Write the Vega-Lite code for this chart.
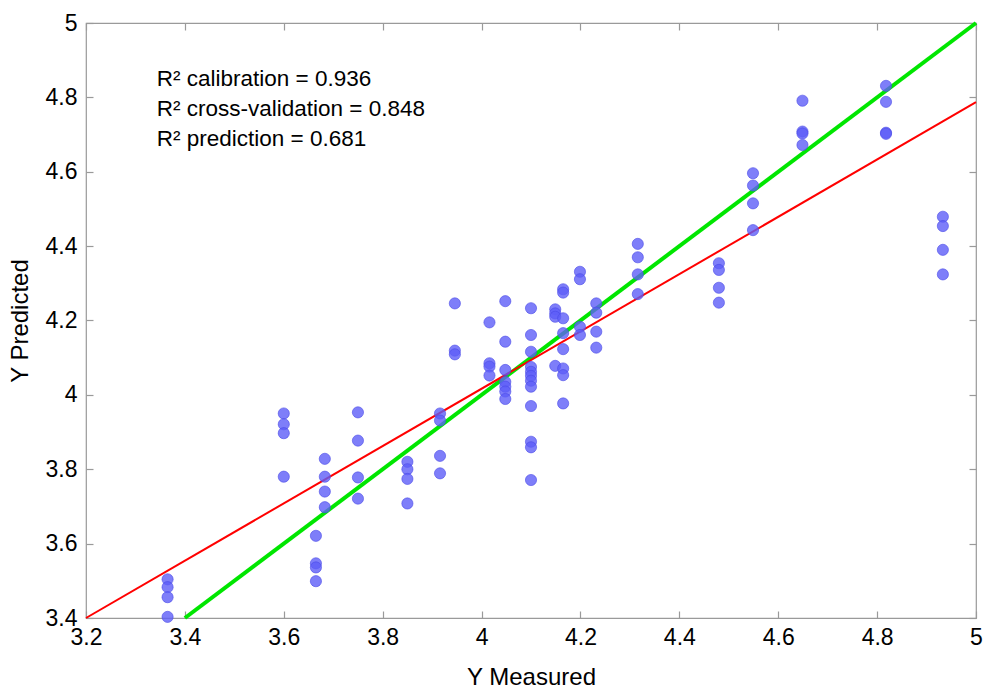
{
  "$schema": "https://vega.github.io/schema/vega-lite/v6.json",
  "width": 890,
  "height": 595,
  "autosize": "none",
  "padding": {"left": 86, "top": 23, "right": 8, "bottom": 73},
  "background": "white",
  "config": {
    "font": "Liberation Sans",
    "view": {"stroke": "#9a9a9a", "strokeWidth": 1.2},
    "axis": {
      "grid": false,
      "domain": false,
      "tickColor": "#9a9a9a",
      "tickWidth": 1.2,
      "tickSize": -7,
      "labelFont": "Liberation Sans",
      "labelFontSize": 23,
      "labelColor": "black",
      "titleFont": "Liberation Sans",
      "titleFontSize": 24,
      "titleFontWeight": "normal",
      "titleColor": "black",
      "labelFlush": false,
      "labelOverlap": false,
      "format": "~g"
    }
  },
  "datasets": {
    "ideal": [{"x": 3.4, "y": 3.4}, {"x": 5, "y": 5}],
    "fit": [{"x": 3.2, "y": 3.4}, {"x": 5, "y": 4.787}],
    "points": [
      {"x": 3.365, "y": 3.504}, {"x": 3.365, "y": 3.483}, {"x": 3.365, "y": 3.456}, {"x": 3.365, "y": 3.403},
      {"x": 3.6, "y": 3.95}, {"x": 3.6, "y": 3.921}, {"x": 3.6, "y": 3.897}, {"x": 3.6, "y": 3.78},
      {"x": 3.665, "y": 3.621}, {"x": 3.665, "y": 3.547}, {"x": 3.665, "y": 3.536}, {"x": 3.665, "y": 3.499},
      {"x": 3.683, "y": 3.828}, {"x": 3.683, "y": 3.78}, {"x": 3.683, "y": 3.74}, {"x": 3.683, "y": 3.698},
      {"x": 3.75, "y": 3.953}, {"x": 3.75, "y": 3.877}, {"x": 3.75, "y": 3.778}, {"x": 3.75, "y": 3.721},
      {"x": 3.85, "y": 3.82}, {"x": 3.85, "y": 3.8}, {"x": 3.85, "y": 3.774}, {"x": 3.85, "y": 3.708},
      {"x": 3.916, "y": 3.95}, {"x": 3.916, "y": 3.931}, {"x": 3.916, "y": 3.836}, {"x": 3.916, "y": 3.789},
      {"x": 3.946, "y": 4.246}, {"x": 3.946, "y": 4.119}, {"x": 3.946, "y": 4.109},
      {"x": 4.016, "y": 4.195}, {"x": 4.016, "y": 4.085}, {"x": 4.016, "y": 4.076}, {"x": 4.016, "y": 4.052},
      {"x": 4.048, "y": 4.252}, {"x": 4.048, "y": 4.143}, {"x": 4.048, "y": 4.067}, {"x": 4.048, "y": 4.035}, {"x": 4.048, "y": 4.022}, {"x": 4.048, "y": 4.009}, {"x": 4.048, "y": 3.989},
      {"x": 4.1, "y": 4.233}, {"x": 4.1, "y": 4.161}, {"x": 4.1, "y": 4.116}, {"x": 4.1, "y": 4.075}, {"x": 4.1, "y": 4.062}, {"x": 4.1, "y": 4.051}, {"x": 4.1, "y": 4.038}, {"x": 4.1, "y": 4.022}, {"x": 4.1, "y": 3.97}, {"x": 4.1, "y": 3.874}, {"x": 4.1, "y": 3.859}, {"x": 4.1, "y": 3.771},
      {"x": 4.149, "y": 4.23}, {"x": 4.149, "y": 4.219}, {"x": 4.149, "y": 4.21}, {"x": 4.149, "y": 4.078},
      {"x": 4.165, "y": 4.284}, {"x": 4.165, "y": 4.275}, {"x": 4.165, "y": 4.206}, {"x": 4.165, "y": 4.166}, {"x": 4.165, "y": 4.123}, {"x": 4.165, "y": 4.071}, {"x": 4.165, "y": 4.053}, {"x": 4.165, "y": 3.977},
      {"x": 4.199, "y": 4.331}, {"x": 4.199, "y": 4.311}, {"x": 4.199, "y": 4.183}, {"x": 4.199, "y": 4.161},
      {"x": 4.232, "y": 4.246}, {"x": 4.232, "y": 4.221}, {"x": 4.232, "y": 4.17}, {"x": 4.232, "y": 4.127},
      {"x": 4.316, "y": 4.406}, {"x": 4.316, "y": 4.37}, {"x": 4.316, "y": 4.324}, {"x": 4.316, "y": 4.271},
      {"x": 4.48, "y": 4.354}, {"x": 4.48, "y": 4.336}, {"x": 4.48, "y": 4.288}, {"x": 4.48, "y": 4.248},
      {"x": 4.549, "y": 4.596}, {"x": 4.549, "y": 4.563}, {"x": 4.549, "y": 4.515}, {"x": 4.549, "y": 4.443},
      {"x": 4.649, "y": 4.791}, {"x": 4.649, "y": 4.708}, {"x": 4.649, "y": 4.703}, {"x": 4.649, "y": 4.672},
      {"x": 4.818, "y": 4.831}, {"x": 4.818, "y": 4.788}, {"x": 4.818, "y": 4.705}, {"x": 4.818, "y": 4.702},
      {"x": 4.933, "y": 4.479}, {"x": 4.933, "y": 4.454}, {"x": 4.933, "y": 4.39}, {"x": 4.933, "y": 4.324}
    ]
  },
  "layer": [
    {
      "data": {"name": "ideal"},
      "mark": {"type": "line", "color": "#00e600", "strokeWidth": 4},
      "encoding": {
        "x": {"field": "x", "type": "quantitative", "scale": {"domain": [3.2, 5], "nice": false, "zero": false},
              "axis": {"orient": "top", "values": [3.2, 3.4, 3.6, 3.8, 4, 4.2, 4.4, 4.6, 4.8, 5], "labels": false, "title": null}},
        "y": {"field": "y", "type": "quantitative", "scale": {"domain": [3.4, 5], "nice": false, "zero": false},
              "axis": {"orient": "right", "values": [3.4, 3.6, 3.8, 4, 4.2, 4.4, 4.6, 4.8, 5], "labels": false, "title": null}}
      }
    },
    {
      "data": {"name": "fit"},
      "mark": {"type": "line", "color": "#ff0000", "strokeWidth": 2},
      "encoding": {
        "x": {"field": "x", "type": "quantitative", "axis": null},
        "y": {"field": "y", "type": "quantitative", "axis": null}
      }
    },
    {
      "data": {"name": "points"},
      "mark": {"type": "point", "shape": "circle", "filled": true, "size": 125, "fill": "#5e5ef7", "fillOpacity": 0.8, "stroke": "#4a4ae8", "strokeOpacity": 0.6, "strokeWidth": 1},
      "encoding": {
        "x": {"field": "x", "type": "quantitative",
              "axis": {"orient": "bottom", "values": [3.2, 3.4, 3.6, 3.8, 4, 4.2, 4.4, 4.6, 4.8, 5], "title": "Y Measured", "labelPadding": 15, "titlePadding": 16}},
        "y": {"field": "y", "type": "quantitative",
              "axis": {"orient": "left", "values": [3.4, 3.6, 3.8, 4, 4.2, 4.4, 4.6, 4.8, 5], "title": "Y Predicted", "labelPadding": 16, "titlePadding": 13}}
      }
    },
    {
      "data": {"values": [{}]},
      "mark": {"type": "text", "align": "left", "baseline": "alphabetic", "fontSize": 22.5, "lineHeight": 30, "font": "Liberation Sans", "color": "black",
               "text": ["R² calibration = 0.936", "R² cross-validation = 0.848", "R² prediction = 0.681"]},
      "encoding": {
        "x": {"datum": 3.343, "type": "quantitative", "axis": null},
        "y": {"datum": 4.8306, "type": "quantitative", "axis": null}
      }
    }
  ],
  "resolve": {"axis": {"x": "independent", "y": "independent"}}
}
